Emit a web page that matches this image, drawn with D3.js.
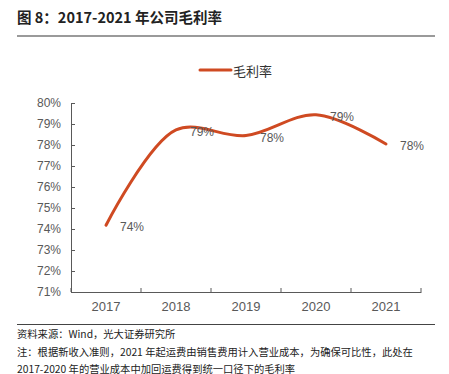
<!DOCTYPE html>
<html>
<head>
<meta charset="utf-8">
<script src="https://cdn.jsdelivr.net/npm/d3@7/dist/d3.min.js"></script>
<style>
  html, body { margin: 0; padding: 0; background: #fff; }
  svg { display: block; }
</style>
</head>
<body>
<svg id="chart" width="449" height="374"></svg>
<script>
const titleText = "图 8：2017-2021 年公司毛利率";
const categories = ["2017", "2018", "2019", "2020", "2021"];
const seriesName = "毛利率";
const grossMargin = [74.18, 78.72, 78.45, 79.44, 78.05];
const dataLabels = ["74%", "79%", "78%", "79%", "78%"];
const yTicks = [71, 72, 73, 74, 75, 76, 77, 78, 79, 80];
const sourceText = "资料来源：Wind，光大证券研究所";
const noteLines = [
  "注：根据新收入准则，2021 年起运费由销售费用计入营业成本，为确保可比性，此处在",
  "2017-2020 年的营业成本中加回运费得到统一口径下的毛利率"
];

const svg = d3.select("#chart");
const cjk = "'Noto Sans CJK SC', 'Noto Sans', sans-serif";
const latin = "'Liberation Sans', Arial, sans-serif";
const lineColor = "#CF4A22";
const axisColor = "#595959";

// Title
svg.append("text")
  .attr("x", 17).attr("y", 23)
  .attr("font-family", cjk).attr("font-size", 14.5).attr("font-weight", "bold")
  .attr("fill", "#222")
  .text(titleText);
svg.append("line")
  .attr("x1", 17).attr("x2", 435).attr("y1", 36).attr("y2", 36)
  .attr("stroke", "#9a9a9a").attr("stroke-width", 2);

// Scales
const x = d3.scaleBand().domain(categories).range([71, 421]).padding(0);
const y = d3.scaleLinear().domain([71, 80]).range([292, 103]);
const cx = d => x(d) + x.bandwidth() / 2;

// Y axis
const yAxis = svg.append("g").attr("transform", "translate(71,0)")
  .call(d3.axisLeft(y).tickValues(yTicks).tickFormat(d => d + "%")
    .tickSizeInner(-4).tickSizeOuter(0).tickPadding(10));
yAxis.select(".domain").attr("stroke", axisColor);
yAxis.selectAll(".tick line").attr("stroke", axisColor);
yAxis.selectAll(".tick text").attr("font-family", latin).attr("font-size", 12).attr("fill", axisColor);

// X axis
const xAxis = svg.append("g").attr("transform", "translate(0,292)")
  .call(d3.axisBottom(x).tickSize(0).tickPadding(10));
xAxis.select(".domain").attr("stroke", axisColor);
xAxis.selectAll(".tick text").attr("font-family", latin).attr("font-size", 13).attr("fill", axisColor);
const boundaries = categories.map(c => x(c)).concat([x.range()[1]]);
svg.append("g").selectAll("line").data(boundaries).join("line")
  .attr("x1", d => d).attr("x2", d => d)
  .attr("y1", 292).attr("y2", 288)
  .attr("stroke", axisColor);

// Line
const line = d3.line()
  .x((d, i) => cx(categories[i]))
  .y(d => y(d))
  .curve(d3.curveCatmullRom.alpha(0.5));
svg.append("path")
  .datum(grossMargin)
  .attr("d", line)
  .attr("fill", "none")
  .attr("stroke", lineColor)
  .attr("stroke-width", 3)
  .attr("stroke-linecap", "round");

// Data labels
svg.append("g").selectAll("text").data(grossMargin).join("text")
  .attr("x", (d, i) => cx(categories[i]) + 26)
  .attr("y", (d, i) => y(d) + 2)
  .attr("text-anchor", "middle")
  .attr("dominant-baseline", "central")
  .attr("font-family", latin).attr("font-size", 12).attr("fill", axisColor)
  .text((d, i) => dataLabels[i]);

// Legend
svg.append("line")
  .attr("x1", 200).attr("x2", 231).attr("y1", 70).attr("y2", 70)
  .attr("stroke", lineColor).attr("stroke-width", 3).attr("stroke-linecap", "round");
svg.append("text")
  .attr("x", 233).attr("y", 70)
  .attr("dominant-baseline", "central")
  .attr("font-family", cjk).attr("font-size", 13).attr("fill", "#333")
  .text(seriesName);

// Footer
svg.append("line")
  .attr("x1", 17).attr("x2", 435).attr("y1", 324.5).attr("y2", 324.5)
  .attr("stroke", "#444").attr("stroke-width", 1);
svg.append("text")
  .attr("x", 17).attr("y", 333)
  .attr("dominant-baseline", "central")
  .attr("font-family", cjk).attr("font-size", 10.3).attr("fill", "#222")
  .text(sourceText);
svg.append("g").selectAll("text").data(noteLines).join("text")
  .attr("x", 17).attr("y", (d, i) => 351 + i * 17)
  .attr("dominant-baseline", "central")
  .attr("font-family", cjk).attr("font-size", 10.3).attr("fill", "#222")
  .text(d => d);
</script>
</body>
</html>
